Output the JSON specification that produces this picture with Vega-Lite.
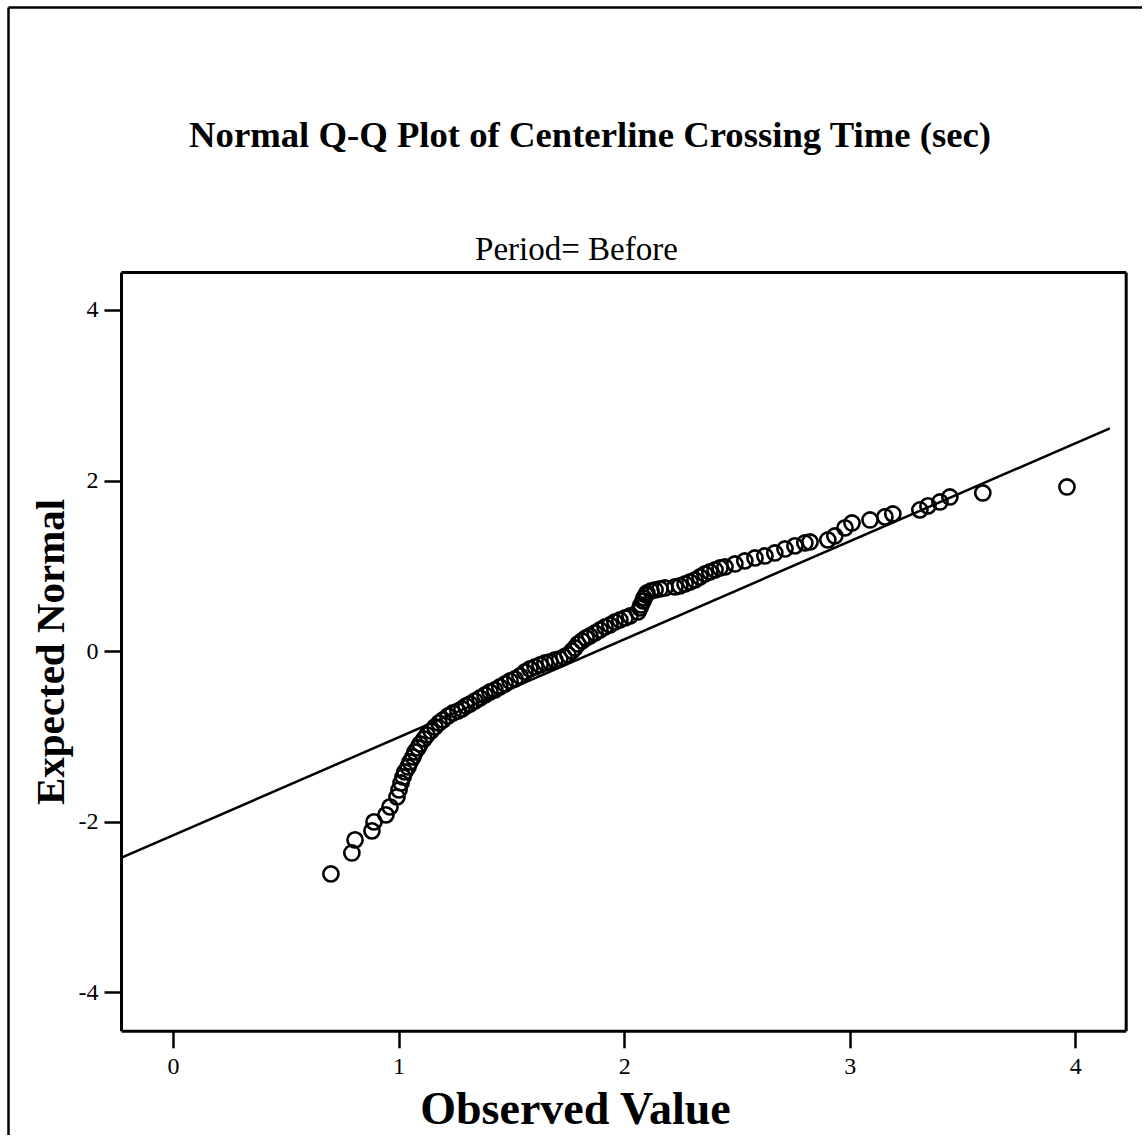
{
  "$schema": "https://vega.github.io/schema/vega-lite/v6.json",
  "autosize": "none",
  "width": 1134,
  "height": 1128,
  "padding": {"left": 8, "top": 7, "right": 0, "bottom": 0},
  "background": "white",
  "title": {
    "text": "Normal Q-Q Plot of Centerline Crossing Time (sec)",
    "anchor": "middle",
    "frame": "group",
    "dx": 15,
    "font": "Liberation Serif",
    "fontSize": 36.7,
    "fontWeight": "bold",
    "color": "black",
    "offset": -148
  },
  "datasets": {
    "qq": [
      {"observed": 0.700, "expected": -2.612},
      {"observed": 0.793, "expected": -2.366},
      {"observed": 0.807, "expected": -2.213},
      {"observed": 0.882, "expected": -2.107},
      {"observed": 0.891, "expected": -2.002},
      {"observed": 0.944, "expected": -1.920},
      {"observed": 0.962, "expected": -1.826},
      {"observed": 0.993, "expected": -1.709},
      {"observed": 1.002, "expected": -1.627},
      {"observed": 1.011, "expected": -1.545},
      {"observed": 1.020, "expected": -1.475},
      {"observed": 1.028, "expected": -1.416},
      {"observed": 1.042, "expected": -1.358},
      {"observed": 1.051, "expected": -1.299},
      {"observed": 1.064, "expected": -1.240},
      {"observed": 1.073, "expected": -1.182},
      {"observed": 1.086, "expected": -1.135},
      {"observed": 1.095, "expected": -1.088},
      {"observed": 1.113, "expected": -1.029},
      {"observed": 1.126, "expected": -0.982},
      {"observed": 1.144, "expected": -0.936},
      {"observed": 1.161, "expected": -0.889},
      {"observed": 1.179, "expected": -0.842},
      {"observed": 1.197, "expected": -0.807},
      {"observed": 1.219, "expected": -0.760},
      {"observed": 1.241, "expected": -0.725},
      {"observed": 1.263, "expected": -0.702},
      {"observed": 1.281, "expected": -0.678},
      {"observed": 1.299, "expected": -0.643},
      {"observed": 1.317, "expected": -0.619},
      {"observed": 1.339, "expected": -0.584},
      {"observed": 1.361, "expected": -0.549},
      {"observed": 1.383, "expected": -0.514},
      {"observed": 1.405, "expected": -0.478},
      {"observed": 1.427, "expected": -0.455},
      {"observed": 1.449, "expected": -0.420},
      {"observed": 1.472, "expected": -0.385},
      {"observed": 1.494, "expected": -0.350},
      {"observed": 1.516, "expected": -0.326},
      {"observed": 1.538, "expected": -0.291},
      {"observed": 1.560, "expected": -0.244},
      {"observed": 1.582, "expected": -0.209},
      {"observed": 1.605, "expected": -0.185},
      {"observed": 1.627, "expected": -0.162},
      {"observed": 1.649, "expected": -0.138},
      {"observed": 1.671, "expected": -0.127},
      {"observed": 1.693, "expected": -0.103},
      {"observed": 1.715, "expected": -0.091},
      {"observed": 1.733, "expected": -0.068},
      {"observed": 1.751, "expected": -0.044},
      {"observed": 1.769, "expected": 0.002},
      {"observed": 1.782, "expected": 0.037},
      {"observed": 1.795, "expected": 0.084},
      {"observed": 1.813, "expected": 0.119},
      {"observed": 1.831, "expected": 0.155},
      {"observed": 1.848, "expected": 0.178},
      {"observed": 1.871, "expected": 0.213},
      {"observed": 1.893, "expected": 0.248},
      {"observed": 1.915, "expected": 0.284},
      {"observed": 1.937, "expected": 0.307},
      {"observed": 1.959, "expected": 0.342},
      {"observed": 1.981, "expected": 0.366},
      {"observed": 2.004, "expected": 0.389},
      {"observed": 2.026, "expected": 0.413},
      {"observed": 2.061, "expected": 0.460},
      {"observed": 2.070, "expected": 0.507},
      {"observed": 2.075, "expected": 0.542},
      {"observed": 2.084, "expected": 0.589},
      {"observed": 2.088, "expected": 0.624},
      {"observed": 2.097, "expected": 0.659},
      {"observed": 2.101, "expected": 0.682},
      {"observed": 2.119, "expected": 0.706},
      {"observed": 2.137, "expected": 0.718},
      {"observed": 2.159, "expected": 0.729},
      {"observed": 2.181, "expected": 0.741},
      {"observed": 2.225, "expected": 0.753},
      {"observed": 2.247, "expected": 0.765},
      {"observed": 2.270, "expected": 0.788},
      {"observed": 2.292, "expected": 0.811},
      {"observed": 2.314, "expected": 0.835},
      {"observed": 2.336, "expected": 0.870},
      {"observed": 2.358, "expected": 0.905},
      {"observed": 2.380, "expected": 0.929},
      {"observed": 2.403, "expected": 0.952},
      {"observed": 2.425, "expected": 0.976},
      {"observed": 2.447, "expected": 0.987},
      {"observed": 2.491, "expected": 1.022},
      {"observed": 2.535, "expected": 1.058},
      {"observed": 2.580, "expected": 1.093},
      {"observed": 2.624, "expected": 1.116},
      {"observed": 2.668, "expected": 1.151},
      {"observed": 2.713, "expected": 1.198},
      {"observed": 2.757, "expected": 1.234},
      {"observed": 2.801, "expected": 1.269},
      {"observed": 2.824, "expected": 1.280},
      {"observed": 2.903, "expected": 1.304},
      {"observed": 2.934, "expected": 1.351},
      {"observed": 2.979, "expected": 1.445},
      {"observed": 3.010, "expected": 1.503},
      {"observed": 3.090, "expected": 1.538},
      {"observed": 3.156, "expected": 1.574},
      {"observed": 3.191, "expected": 1.609},
      {"observed": 3.311, "expected": 1.656},
      {"observed": 3.347, "expected": 1.703},
      {"observed": 3.400, "expected": 1.749},
      {"observed": 3.444, "expected": 1.808},
      {"observed": 3.590, "expected": 1.855},
      {"observed": 3.963, "expected": 1.925}
    ],
    "fit": [
      {"x": -0.2305, "y": -2.425},
      {"x": 4.153, "y": 2.613}
    ]
  },
  "layer": [
    {
      "data": {"name": "qq"},
      "mark": {"type": "point", "shape": "circle", "filled": false, "stroke": "black", "strokeWidth": 2.6, "size": 230, "opacity": 1},
      "encoding": {
        "x": {
          "field": "observed",
          "type": "quantitative",
          "scale": {"domain": [-0.2305, 4.2234], "range": [113, 1117.7], "nice": false, "zero": false},
          "axis": {
            "orient": "bottom",
            "offset": -104.2,
            "values": [0, 1, 2, 3, 4],
            "labelExpr": "'' + datum.value",
            "title": "Observed Value",
            "titleFontSize": 46,
            "titlePadding": 9,
            "titleX": 567,
            "labelPadding": 7
          }
        },
        "y": {
          "field": "expected",
          "type": "quantitative",
          "scale": {"domain": [-4.4513, 4.4454], "range": [1023.8, 265], "nice": false, "zero": false},
          "axis": {
            "orient": "left",
            "offset": -113,
            "values": [-4, -2, 0, 2, 4],
            "labelExpr": "'' + datum.value",
            "title": "Expected Normal",
            "titleFontSize": 41,
            "titlePadding": 6,
            "labelPadding": 6
          }
        }
      }
    },
    {
      "data": {"name": "fit"},
      "mark": {"type": "line", "stroke": "black", "strokeWidth": 2.5, "clip": false},
      "encoding": {
        "x": {
          "field": "x",
          "type": "quantitative",
          "scale": {"domain": [-0.2305, 4.2234], "range": [113, 1117.7], "nice": false, "zero": false},
          "axis": {
            "orient": "top",
            "offset": -265,
            "labels": false,
            "ticks": false,
            "title": "Period= Before",
            "titleFontWeight": "normal",
            "titleFontSize": 33,
            "titleX": 568,
            "titlePadding": 6
          }
        },
        "y": {
          "field": "y",
          "type": "quantitative",
          "scale": {"domain": [-4.4513, 4.4454], "range": [1023.8, 265], "nice": false, "zero": false},
          "axis": {"orient": "right", "offset": -16.3, "labels": false, "ticks": false, "title": null}
        }
      }
    },
    {
      "data": {"name": "fit"},
      "mark": {"type": "rule", "opacity": 0},
      "encoding": {
        "x": {
          "field": "x",
          "type": "quantitative",
          "axis": {"orient": "top", "offset": 0, "labels": false, "ticks": false, "title": null, "domainWidth": 2.5}
        },
        "y": {
          "field": "y",
          "type": "quantitative",
          "axis": {"orient": "left", "offset": 0, "labels": false, "ticks": false, "title": null, "domainWidth": 2.5}
        }
      }
    }
  ],
  "resolve": {
    "scale": {"x": "independent", "y": "independent"},
    "axis": {"x": "independent", "y": "independent"}
  },
  "config": {
    "view": {"stroke": null, "fill": "white"},
    "axis": {
      "grid": false,
      "domainColor": "black",
      "domainWidth": 3,
      "tickColor": "black",
      "tickWidth": 2.5,
      "tickSize": 17,
      "labelFont": "Liberation Serif",
      "labelFontSize": 24,
      "labelColor": "black",
      "titleFont": "Liberation Serif",
      "titleFontWeight": "bold",
      "titleColor": "black"
    }
  }
}
